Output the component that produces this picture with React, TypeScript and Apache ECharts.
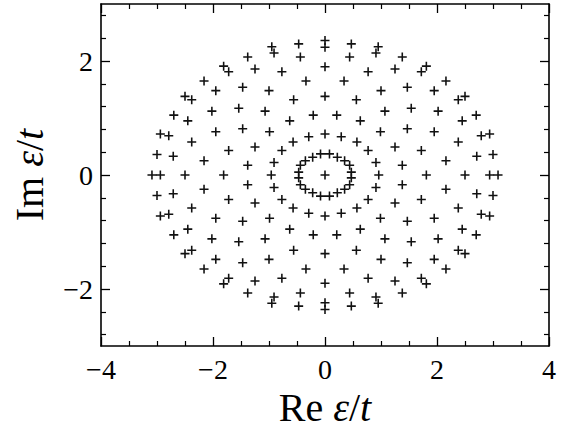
import React, { useEffect, useRef } from "react";
import * as echarts from "echarts";

// Eigenvalue positions (Re, Im)
const quadrantI: number[][] = [
  [0.47, 0.05], [0.44, 0.17], [0.35, 0.25], [0.22, 0.31], [0.08, 0.37],
  [0.91, 0.22], [0.77, 0.43], [0.57, 0.58], [0.29, 0.67],
  [1.38, 0.17], [1.25, 0.49], [0.99, 0.76], [0.63, 0.95], [0.21, 1.05],
  [1.72, 0.43], [1.47, 0.81], [1.07, 1.12], [0.56, 1.32],
  [2.16, 0.25], [1.95, 0.76], [1.54, 1.17], [1.0, 1.48], [0.34, 1.65],
  [2.38, 0.58], [2.02, 1.12], [1.47, 1.54], [0.77, 1.81],
  [2.71, 0.33], [2.45, 0.95], [1.95, 1.48], [1.25, 1.86], [0.44, 2.07],
  [2.79, 0.69], [2.38, 1.32], [1.72, 1.81], [0.91, 2.14],
  [3.0, 0.36], [2.94, 0.72], [2.7, 1.05], [2.5, 1.38], [2.16, 1.65], [1.81, 1.91], [1.38, 2.07], [0.95, 2.25], [0.47, 2.3],
];
const quadrantII: number[][] = [
  [-0.47, 0.05], [-0.44, 0.17], [-0.35, 0.25], [-0.22, 0.31], [-0.08, 0.37],
  [-0.91, 0.22], [-0.77, 0.43], [-0.57, 0.58], [-0.29, 0.67],
  [-1.38, 0.17], [-1.25, 0.49], [-0.99, 0.76], [-0.63, 0.95], [-0.21, 1.05],
  [-1.72, 0.43], [-1.47, 0.81], [-1.07, 1.12], [-0.56, 1.32],
  [-2.16, 0.25], [-1.95, 0.76], [-1.54, 1.17], [-1.0, 1.48], [-0.34, 1.65],
  [-2.38, 0.58], [-2.02, 1.12], [-1.47, 1.54], [-0.77, 1.81],
  [-2.71, 0.33], [-2.45, 0.95], [-1.95, 1.48], [-1.25, 1.86], [-0.44, 2.07],
  [-2.79, 0.69], [-2.38, 1.32], [-1.72, 1.81], [-0.91, 2.14],
  [-3.0, 0.36], [-2.94, 0.72], [-2.7, 1.05], [-2.5, 1.38], [-2.16, 1.65], [-1.81, 1.91], [-1.38, 2.07], [-0.95, 2.25], [-0.47, 2.3],
];
const quadrantIII: number[][] = [
  [-0.47, -0.05], [-0.44, -0.17], [-0.35, -0.25], [-0.22, -0.31], [-0.08, -0.37],
  [-0.91, -0.22], [-0.77, -0.43], [-0.57, -0.58], [-0.29, -0.67],
  [-1.38, -0.17], [-1.25, -0.49], [-0.99, -0.76], [-0.63, -0.95], [-0.21, -1.05],
  [-1.72, -0.43], [-1.47, -0.81], [-1.07, -1.12], [-0.56, -1.32],
  [-2.16, -0.25], [-1.95, -0.76], [-1.54, -1.17], [-1.0, -1.48], [-0.34, -1.65],
  [-2.38, -0.58], [-2.02, -1.12], [-1.47, -1.54], [-0.77, -1.81],
  [-2.71, -0.33], [-2.45, -0.95], [-1.95, -1.48], [-1.25, -1.86], [-0.44, -2.07],
  [-2.79, -0.69], [-2.38, -1.32], [-1.72, -1.81], [-0.91, -2.14],
  [-3.0, -0.36], [-2.94, -0.72], [-2.7, -1.05], [-2.5, -1.38], [-2.16, -1.65], [-1.81, -1.91], [-1.38, -2.07], [-0.95, -2.25], [-0.47, -2.3],
];
const quadrantIV: number[][] = [
  [0.47, -0.05], [0.44, -0.17], [0.35, -0.25], [0.22, -0.31], [0.08, -0.37],
  [0.91, -0.22], [0.77, -0.43], [0.57, -0.58], [0.29, -0.67],
  [1.38, -0.17], [1.25, -0.49], [0.99, -0.76], [0.63, -0.95], [0.21, -1.05],
  [1.72, -0.43], [1.47, -0.81], [1.07, -1.12], [0.56, -1.32],
  [2.16, -0.25], [1.95, -0.76], [1.54, -1.17], [1.0, -1.48], [0.34, -1.65],
  [2.38, -0.58], [2.02, -1.12], [1.47, -1.54], [0.77, -1.81],
  [2.71, -0.33], [2.45, -0.95], [1.95, -1.48], [1.25, -1.86], [0.44, -2.07],
  [2.79, -0.69], [2.38, -1.32], [1.72, -1.81], [0.91, -2.14],
  [3.0, -0.36], [2.94, -0.72], [2.7, -1.05], [2.5, -1.38], [2.16, -1.65], [1.81, -1.91], [1.38, -2.07], [0.95, -2.25], [0.47, -2.3],
];
const realAxisPoints: number[][] = [
  [-3.09, 0], [-2.94, 0], [-2.5, 0], [-1.81, 0], [-0.96, 0],
  [0.96, 0], [1.81, 0], [2.5, 0], [2.94, 0], [3.09, 0],
];
const imagAxisPoints: number[][] = [
  [0, 2.36], [0, 2.24], [0, 1.9], [0, 1.38], [0, 0.72],
  [0, -0.72], [0, -1.38], [0, -1.9], [0, -2.24], [0, -2.36],
];
const centerPoint: number[][] = [[0, 0]];

const xTicks = [-4, -2, 0, 2, 4];
const yMajorTicks = [-2, 0, 2];
const yMinorTicks = [-2.8, -2.4, -1.6, -1.2, -0.8, -0.4, 0.4, 0.8, 1.2, 1.6, 2.4, 2.8];

const FONT = "'Liberation Serif', 'DejaVu Serif', serif";
const fmt = (v: number) => (v < 0 ? "\u2212" + Math.abs(v) : String(v));

export default function App() {
  const ref = useRef<HTMLDivElement>(null);
  useEffect(() => {
    if (!ref.current) return;
    const chart = echarts.init(ref.current, undefined, { renderer: "svg" });
    const plus = "path://M3.3,0H4.7V3.3H8V4.7H4.7V8H3.3V4.7H0V3.3H3.3Z";
    const rich = {
      a: { fontFamily: FONT, fontSize: 40, lineHeight: 40, color: "#000" },
      b: { fontFamily: FONT, fontSize: 40, lineHeight: 40, fontStyle: "italic", color: "#000" },
    };
    const line = { show: true, onZero: false, lineStyle: { color: "#000", width: 1.6 } };
    const noLine = { show: false, onZero: false };
    const majorTick = { show: true, inside: true, length: 9, lineStyle: { color: "#000", width: 1.3 } };
    const minorTickStyle = { color: "#000", width: 1.2 };
    const allPoints = [
      ...quadrantI, ...quadrantII, ...quadrantIII, ...quadrantIV,
      ...realAxisPoints, ...imagAxisPoints, ...centerPoint,
    ];
    chart.setOption({
      animation: false,
      backgroundColor: "#fff",
      grid: { left: 101, top: 4, right: 23, bottom: 84, containLabel: false, outerBoundsMode: "none" },
      xAxis: [
        {
          type: "value", position: "bottom", min: -4, max: 4, interval: 2,
          axisLine: line,
          axisTick: majorTick,
          minorTick: { show: true, splitNumber: 4, length: 5, lineStyle: minorTickStyle },
          axisLabel: {
            show: true, margin: 9, fontFamily: FONT, fontSize: 28, color: "#000",
            formatter: (v: number) => (xTicks.includes(v) ? fmt(v) : ""),
          },
          splitLine: { show: false },
          name: "{a|Re }{b|ε}{a|/}{b|t}",
          nameLocation: "middle", nameGap: 32,
          nameTextStyle: { lineHeight: 40, rich },
        },
        {
          type: "value", position: "top", min: -4, max: 4, interval: 2,
          axisLine: line,
          axisTick: majorTick,
          minorTick: { show: true, splitNumber: 4, length: 5, lineStyle: minorTickStyle },
          axisLabel: { show: false },
          splitLine: { show: false },
        },
      ],
      yAxis: [
        {
          type: "value", position: "left", min: -3, max: 3,
          axisLine: line,
          axisTick: { ...majorTick, customValues: yMajorTicks },
          axisLabel: {
            show: true, margin: 8, customValues: yMajorTicks, fontFamily: FONT, fontSize: 28, color: "#000",
            formatter: (v: number) => fmt(v),
          },
          splitLine: { show: false },
          name: "{a|Im }{b|ε}{a|/}{b|t}",
          nameLocation: "middle", nameGap: 52,
          nameTextStyle: { lineHeight: 40, rich },
        },
        {
          type: "value", position: "left", min: -3, max: 3,
          axisLine: noLine,
          axisTick: { show: true, inside: true, length: 5, customValues: yMinorTicks, lineStyle: minorTickStyle },
          axisLabel: { show: false },
          splitLine: { show: false },
        },
        {
          type: "value", position: "right", min: -3, max: 3,
          axisLine: line,
          axisTick: { ...majorTick, customValues: yMajorTicks },
          axisLabel: { show: false },
          splitLine: { show: false },
        },
        {
          type: "value", position: "right", min: -3, max: 3,
          axisLine: noLine,
          axisTick: { show: true, inside: true, length: 5, customValues: yMinorTicks, lineStyle: minorTickStyle },
          axisLabel: { show: false },
          splitLine: { show: false },
        },
      ],
      series: [
        {
          type: "scatter",
          xAxisIndex: 0,
          yAxisIndex: 0,
          data: allPoints,
          symbol: plus,
          symbolSize: 9,
          itemStyle: { color: "#111", opacity: 1 },
        },
      ],
    });
    return () => chart.dispose();
  }, []);
  return (
    <div
      ref={ref}
      style={{ position: "fixed", left: 0, top: 0, width: 572, height: 430, background: "#fff" }}
    />
  );
}
